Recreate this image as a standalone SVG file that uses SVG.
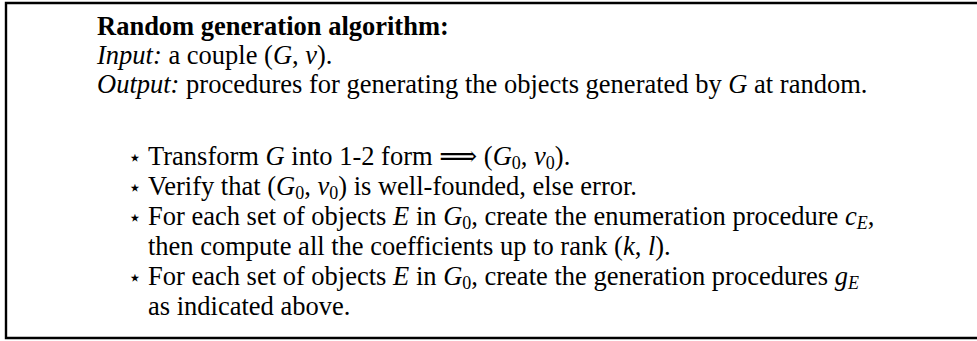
<svg xmlns="http://www.w3.org/2000/svg" width="977" height="341" viewBox="0 0 977 341">
<style>
text{font-family:"Liberation Serif","DejaVu Serif",serif;font-size:26.5px;fill:#000}
.b{font-weight:bold}
.i{font-style:italic}
.sub{font-size:18px}
.star{font-family:"DejaVu Sans",sans-serif;font-size:22px}
</style>
<rect width="977" height="341" fill="#fff"/>
<path d="M977,3 H6 V338 H977" fill="none" stroke="#000" stroke-width="2.4"/>
<g id="algorithm">
<text x="97" y="35" class="b">Random generation algorithm:</text>
<text x="97" y="64"><tspan class="i">Input:</tspan> a couple (<tspan class="i">G</tspan>, <tspan class="i">ν</tspan>).</text>
<text x="97" y="93"><tspan class="i">Output:</tspan> procedures for generating the objects generated by <tspan class="i">G</tspan> at random.</text>
<text x="128" y="165" class="star">⋆</text>
<text x="148" y="165">Transform <tspan class="i">G</tspan> into 1-2 form ⟹ (<tspan class="i">G</tspan><tspan class="sub" dy="3.5">0</tspan><tspan dy="-3.5">, </tspan><tspan class="i">ν</tspan><tspan class="sub" dy="3.5">0</tspan><tspan dy="-3.5">).</tspan></text>
<text x="128" y="195" class="star">⋆</text>
<text x="148" y="195">Verify that (<tspan class="i">G</tspan><tspan class="sub" dy="3.5">0</tspan><tspan dy="-3.5">, </tspan><tspan class="i">ν</tspan><tspan class="sub" dy="3.5">0</tspan><tspan dy="-3.5">) is well-founded, else error.</tspan></text>
<text x="128" y="225" class="star">⋆</text>
<text x="148" y="225">For each set of objects <tspan class="i">E</tspan> in <tspan class="i">G</tspan><tspan class="sub" dy="3.5">0</tspan><tspan dy="-3.5">, create the enumeration procedure </tspan><tspan class="i">c</tspan><tspan class="sub i" dy="3.5">E</tspan><tspan dy="-3.5">,</tspan></text>
<text x="148" y="255">then compute all the coefficients up to rank (<tspan class="i">k</tspan>, <tspan class="i">l</tspan>).</text>
<text x="128" y="285" class="star">⋆</text>
<text x="148" y="285">For each set of objects <tspan class="i">E</tspan> in <tspan class="i">G</tspan><tspan class="sub" dy="3.5">0</tspan><tspan dy="-3.5">, create the generation procedures </tspan><tspan class="i">g</tspan><tspan class="sub i" dy="3.5">E</tspan></text>
<text x="148" y="315">as indicated above.</text>
</g>
</svg>
